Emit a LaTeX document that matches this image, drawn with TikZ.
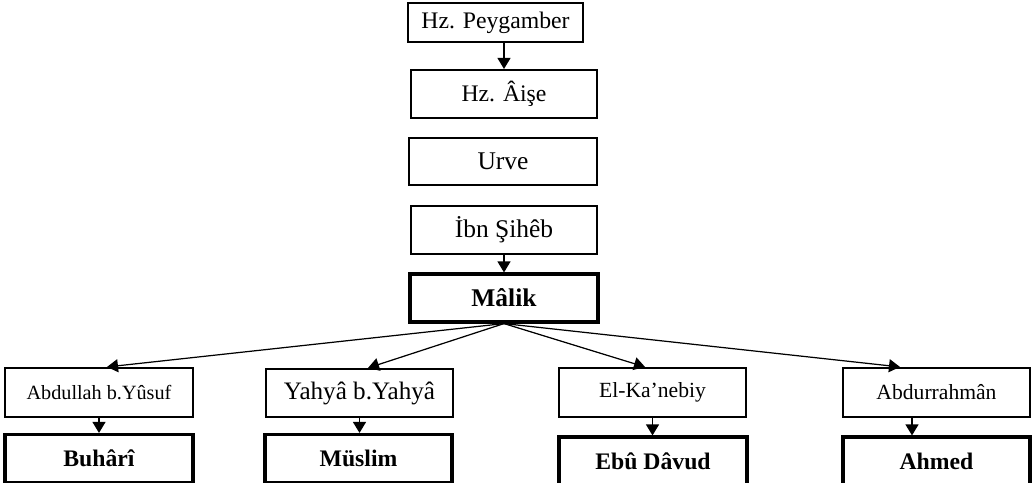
\documentclass[tikz,border=0pt]{standalone}
\usepackage{fontspec}
\setmainfont{Liberation Serif}
\usetikzlibrary{arrows.meta}
\tikzset{
  kutu/.style={draw, line width=1.2pt, inner sep=0pt, font=\fontsize{13.5}{15}\selectfont},
  kalin/.style={kutu, line width=1.8pt, font=\fontsize{13.5}{15}\selectfont\bfseries},
  ok/.style={line width=0.7pt, -{Triangle[width=0.26cm, length=0.22cm]}},
}
\begin{document}
\begin{tikzpicture}[x=0.02cm, y=-0.02cm]
\useasboundingbox (0,0) rectangle (1032,483);
% isnad chain
\node[kutu, minimum width=3.5cm, minimum height=0.78cm] (peyg) at (495.5,22.5) {Hz. Peygamber};
\node[kutu, minimum width=3.72cm, minimum height=0.96cm] (aise) at (504,94) {Hz. Âişe};
\node[kutu, minimum width=3.76cm, minimum height=0.94cm, font=\fontsize{14.5}{16}\selectfont] (urve) at (503,161.5) {Urve};
\node[kutu, minimum width=3.72cm, minimum height=0.96cm, font=\fontsize{14.5}{16}\selectfont] (ibn) at (504,230) {İbn Şihêb};
\node[kalin, minimum width=3.76cm, minimum height=0.96cm, font=\fontsize{14.5}{16}\selectfont\bfseries] (malik) at (504,298) {Mâlik};
% students
\node[kutu, minimum width=3.76cm, minimum height=0.98cm, font=\fontsize{11.5}{13}\selectfont] (abd) at (99,392.5) {Abdullah b.Yûsuf};
\node[kutu, minimum width=3.74cm, minimum height=0.96cm, font=\fontsize{14.3}{16}\selectfont] (yahya) at (359.5,393) {Yahyâ b.Yahyâ};
\node[kutu, minimum width=3.74cm, minimum height=0.98cm, font=\fontsize{12.3}{14}\selectfont] (kanebi) at (652.5,392.5) {El-Ka’nebiy};
\node[kutu, minimum width=3.74cm, minimum height=0.98cm, font=\fontsize{12.3}{14}\selectfont] (abdr) at (936.5,392.5) {Abdurrahmân};
% collectors
\node[kalin, minimum width=3.76cm, minimum height=0.96cm] (buh) at (99,458.5) {Buhârî};
\node[kalin, minimum width=3.74cm, minimum height=0.96cm] (mus) at (358.5,458.5) {Müslim};
\node[kalin, minimum width=3.76cm, minimum height=0.96cm] (ebu) at (653,461) {Ebû Dâvud};
\node[kalin, minimum width=3.74cm, minimum height=0.96cm] (ahm) at (936.5,461) {Ahmed};
\draw[ok] (peyg.south -| aise.north) -- (aise.north);
\draw[ok] (ibn.south) -- (malik.north);
\draw[ok] (malik.south) -- ([xshift=0.16cm]abd.north);
\draw[ok] (malik.south) -- ([xshift=0.17cm]yahya.north);
\draw[ok] (malik.south) -- ([xshift=-0.15cm]kanebi.north);
\draw[ok] (malik.south) -- ([xshift=-0.73cm]abdr.north);
\draw[ok] (abd.south) -- (abd.south |- buh.north);
\draw[ok] (yahya.south) -- (yahya.south |- mus.north);
\draw[ok] (kanebi.south) -- (kanebi.south |- ebu.north);
\draw[ok] ([xshift=-0.49cm]abdr.south) -- ([xshift=-0.49cm]abdr.south |- ahm.north);
\end{tikzpicture}
\end{document}
